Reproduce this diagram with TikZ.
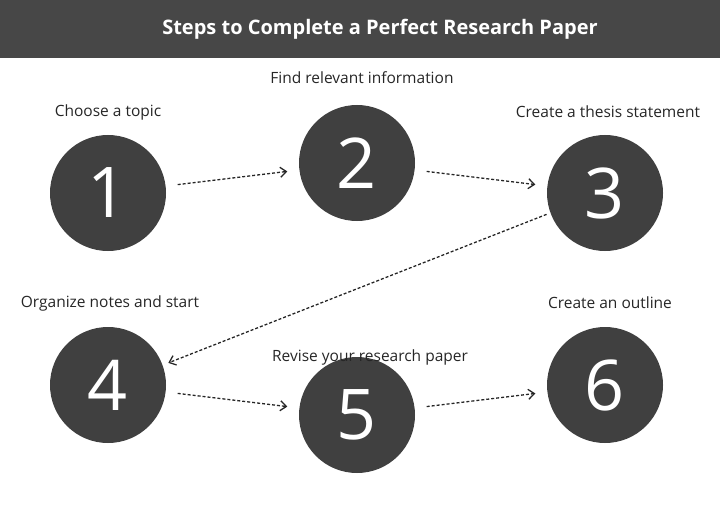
\documentclass[tikz,border=0pt]{standalone}
\usepackage{fontspec}
\setmainfont{Open Sans}
\usetikzlibrary{arrows.meta}
\definecolor{band}{HTML}{474747}
\definecolor{disc}{HTML}{404040}
\tikzset{
  stepdisc/.style={circle, fill=disc, minimum size=116pt, inner sep=0pt, text=white,
    font=\fontsize{70}{70}\selectfont},
  steplabel/.style={font=\fontsize{15.5}{18}\selectfont, text=black!85},
  flow/.style={dash pattern=on 3pt off 2pt, line width=1.3pt, black!85,
    -{Straight Barb[length=6pt,width=10pt]}, shorten >=12pt, shorten <=12pt}
}
\begin{document}
\begin{tikzpicture}[x=1pt,y=-1pt]
        \useasboundingbox (0,0) rectangle (720,524);
        % Header
        \fill[band] (0,0) rectangle (720,58);
        \node[text=white, font=\bfseries\fontsize{20}{24}\selectfont] (title) at (380,29) {Steps to Complete a Perfect Research Paper};

        % Steps
        \node[stepdisc] (s1) at (108,193) {1};
        \node[stepdisc] (s2) at (357,163) {2};
        \node[stepdisc] (s3) at (605,193) {3};
        \node[stepdisc] (s4) at (108,385) {4};
        \node[stepdisc] (s5) at (357,415) {5};
        \node[stepdisc] (s6) at (605,385) {6};

        % Labels
        \node[steplabel] (l1) at (108,112) {Choose a topic};
        \node[steplabel] (l2) at (362,78) {Find relevant information};
        \node[steplabel] (l3) at (608,112) {Create a thesis statement};
        \node[steplabel] (l4) at (110,303) {Organize notes and start};
        \node[steplabel] (l5) at (370,357) {Revise your research paper};
        \node[steplabel] (l6) at (610,303) {Create an outline};

        % Flow
        \draw[flow] (s1) -- (s2);
        \draw[flow] (s2) -- (s3);
        \draw[flow, shorten <=4pt, shorten >=6pt] (s3.200) -- (s4.20);
        \draw[flow] (s4) -- (s5);
        \draw[flow] (s5) -- (s6);
    \end{tikzpicture}
\end{document}
